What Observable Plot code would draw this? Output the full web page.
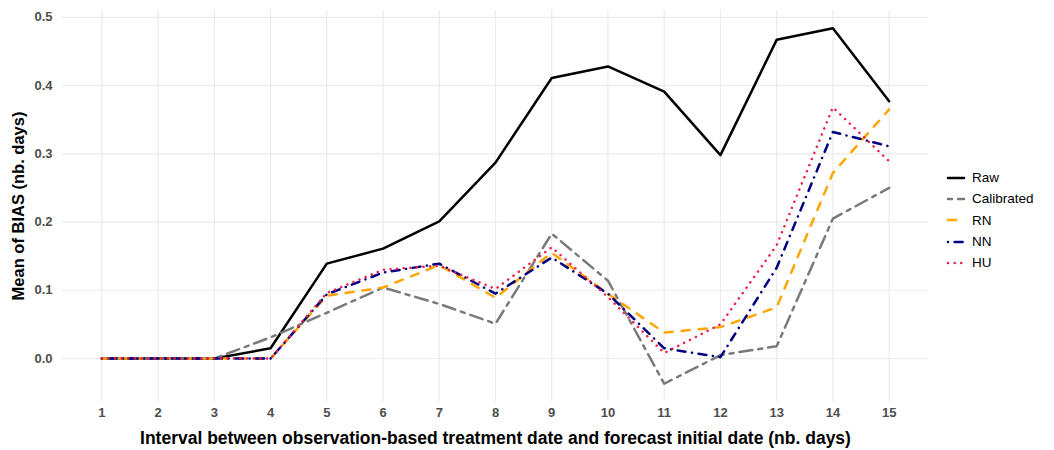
<!DOCTYPE html>
<html>
<head>
<meta charset="utf-8">
<script src="https://cdn.jsdelivr.net/npm/d3@7"></script>
<script src="https://cdn.jsdelivr.net/npm/@observablehq/plot@0.6"></script>
<style>
  body { margin: 0; background: #fff; font-family: "Liberation Sans", Arial, sans-serif; }
  #wrap { position: relative; width: 1054px; height: 450px; }
  #legend { position: absolute; left: 946px; top: 167px; font-size: 13.5px; color: #000; }
  #legend .row { display: flex; align-items: center; height: 21.3px; }
  #legend svg { margin-right: 6px; }
  svg [aria-label="y-axis tick label"], svg [aria-label="x-axis tick label"] { fill: #4d4d4d; font-weight: bold; font-size: 13px; }
  svg [aria-label="y-axis label"] { font-weight: bold; font-size: 16.5px; fill: #000; }
  svg [aria-label="x-axis label"] { font-weight: bold; font-size: 17.5px; fill: #000; }
</style>
</head>
<body>
<div id="wrap"></div>
<script>
// ---- data ----
const intervals = [1, 2, 3, 4, 5, 6, 7, 8, 9, 10, 11, 12, 13, 14, 15];
const raw        = [0, 0, 0, 0.015, 0.139, 0.161, 0.201, 0.287, 0.411, 0.428, 0.391, 0.298, 0.467, 0.484, 0.377];
const calibrated = [0, 0, 0, 0.031, 0.067, 0.104, 0.080, 0.051, 0.183, 0.114, -0.037, 0.005, 0.018, 0.205, 0.250];
const rn         = [0, 0, 0, 0, 0.092, 0.104, 0.137, 0.089, 0.155, 0.095, 0.038, 0.046, 0.075, 0.272, 0.365];
const nn         = [0, 0, 0, 0, 0.094, 0.126, 0.139, 0.095, 0.148, 0.095, 0.015, 0.002, 0.133, 0.332, 0.311];
const hu         = [0, 0, 0, 0, 0.096, 0.130, 0.136, 0.102, 0.163, 0.090, 0.008, 0.050, 0.166, 0.368, 0.289];
const seriesNames = ["Raw", "Calibrated", "RN", "NN", "HU"];
const yTicks = [0.0, 0.1, 0.2, 0.3, 0.4, 0.5];

// ---- styles ----
const seriesValues = [raw, calibrated, rn, nn, hu];
const styles = {
  Raw:        { color: "#000000", dash: null },
  Calibrated: { color: "#7a7a7a", dash: "4,6,13,6" },
  RN:         { color: "#FFA500", dash: "8,9" },
  NN:         { color: "#000080", dash: "0.1,6.5,8,6.5" },
  HU:         { color: "#F0204A", dash: "0.1,6.5" }
};

const rows = [];
seriesNames.forEach((name, i) => {
  intervals.forEach((x, j) => rows.push({ series: name, interval: x, value: seriesValues[i][j] }));
});

const lineMarks = seriesNames.map(name => Plot.line(rows.filter(d => d.series === name), {
  x: "interval", y: "value",
  stroke: styles[name].color,
  strokeWidth: 2.5,
  strokeDasharray: styles[name].dash,
  strokeLinecap: "round",
  strokeLinejoin: "round"
}));

const chart = Plot.plot({
  width: 1054,
  height: 450,
  marginLeft: 62,
  marginRight: 126,
  marginTop: 10,
  marginBottom: 49,
  style: { fontFamily: "'Liberation Sans', Arial, sans-serif", background: "#fff" },
  x: { domain: [0.3, 15.7] },
  y: { domain: [-0.063, 0.51] },
  marks: [
    Plot.gridY(yTicks, { stroke: "#ebebeb", strokeOpacity: 1, strokeWidth: 1.2 }),
    Plot.gridX(intervals, { stroke: "#ebebeb", strokeOpacity: 1, strokeWidth: 1.2 }),
    ...lineMarks,
    Plot.axisX(intervals, {
      tickSize: 0, tickPadding: 6, tickFormat: d => String(d),
      label: "Interval between observation-based treatment date and forecast initial date (nb. days)",
      labelAnchor: "center", labelOffset: 42, labelArrow: "none"
    }),
    Plot.axisY(yTicks, {
      tickSize: 0, tickPadding: 10, tickFormat: d3.format(".1f"),
      label: "Mean of BIAS (nb. days)", labelAnchor: "center", labelOffset: 50, labelArrow: "none"
    })
  ]
});

const wrap = document.getElementById("wrap");
wrap.appendChild(chart);

// legend
const legend = document.createElement("div");
legend.id = "legend";
seriesNames.forEach(name => {
  const row = document.createElement("div");
  row.className = "row";
  const s = styles[name];
  row.innerHTML = `<svg width="20" height="10"><line x1="2" x2="18" y1="5" y2="5" stroke="${s.color}" stroke-width="2.5" stroke-linecap="round" ${s.dash ? `stroke-dasharray="${s.dash}"` : ""}/></svg><span>${name}</span>`;
  legend.appendChild(row);
});
wrap.appendChild(legend);
</script>
</body>
</html>
